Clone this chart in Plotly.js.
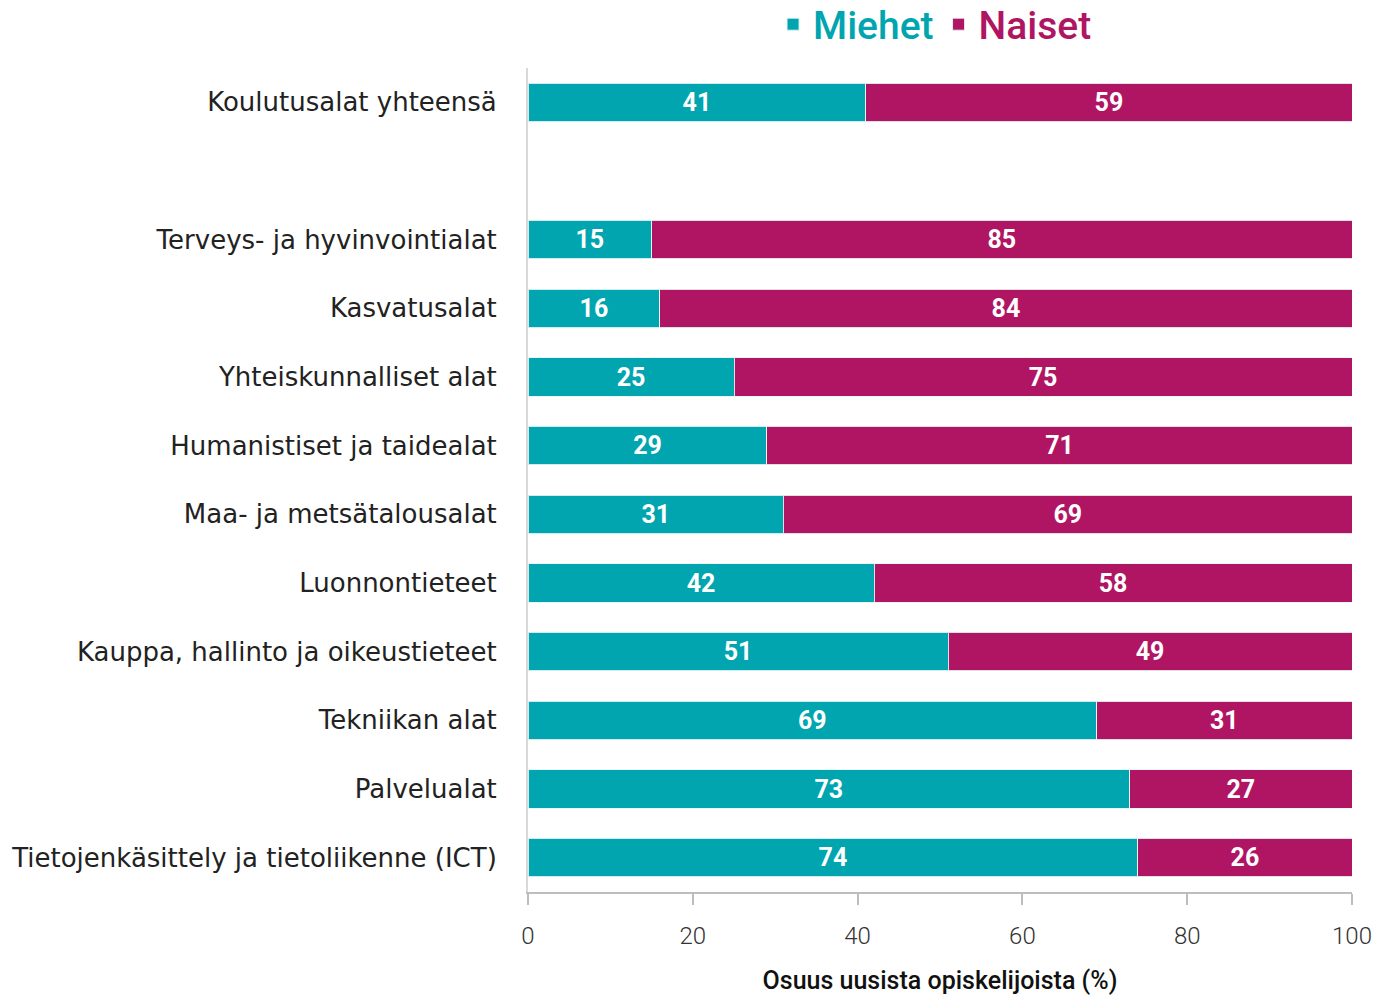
<!DOCTYPE html>
<html><head><meta charset="utf-8">
<script src="https://cdn.plot.ly/plotly-3.0.1.min.js"></script>
<style>body{margin:0;background:#fff}#chart{width:1379px;height:997px}</style>
</head><body><div id="chart"></div>
<script>
const categories = ["Koulutusalat yhteensä", " ", "Terveys- ja hyvinvointialat", "Kasvatusalat", "Yhteiskunnalliset alat", "Humanistiset ja taidealat", "Maa- ja metsätalousalat", "Luonnontieteet", "Kauppa, hallinto ja oikeustieteet", "Tekniikan alat", "Palvelualat", "Tietojenkäsittely ja tietoliikenne (ICT)"];
const miehet = [41, null, 15, 16, 25, 29, 31, 42, 51, 69, 73, 74];
const naiset = [59, null, 85, 84, 75, 71, 69, 58, 49, 31, 27, 26];
const xTicks = [0, 20, 40, 60, 80, 100];

const FONT = "Roboto, 'Open Sans', sans-serif";
const LABELFONT = "'DejaVu Sans', sans-serif";
const teal = "#00A5AF", mag = "#B01563";
function tr(name, vals, color){
  return {type:'bar', orientation:'h', name:name, y:categories, x:vals,
    marker:{color:color, line:{color:'rgba(230,245,245,0.9)', width:1}},
    text: vals.map(v=> v==null? '' : String(v)), textposition:'inside', insidetextanchor:'middle',
    textfont:{family:FONT, size:25, color:'#ffffff', weight:700}, hoverinfo:'skip', cliponaxis:false};
}
const data = [
  tr('<span style="color:'+teal+'">Miehet</span>', miehet, teal),
  tr('<span style="color:'+mag+'">Naiset</span>', naiset, mag)
];
const layout = {
  width:1379, height:997, barmode:'stack', bargap:0.44,
  margin:{l:528, r:27, t:68, b:105, autoexpand:false},
  paper_bgcolor:'#fff', plot_bgcolor:'#fff',
  font:{family:FONT, color:'#222'},
  showlegend:true,
  legend:{orientation:'h', x:0.494, xanchor:'center', y:1.053, yanchor:'middle',
    font:{family:FONT, size:39, weight:500}, itemwidth:30, traceorder:'normal'},
  xaxis:{range:[0,100], tickvals:xTicks, ticktext:xTicks.map(String), showgrid:false, zeroline:false,
    showline:true, linecolor:'#bdbdbd', linewidth:2, ticks:'outside', ticklen:11, tickcolor:'#bdbdbd', tickwidth:2,
    tickfont:{family:FONT, size:24, color:'#333', weight:300}, ticklabelstandoff:10,
    title:{text:'Osuus uusista opiskelijoista (%)', font:{family:FONT, size:25, color:'#111', weight:500}, standoff:23}},
  yaxis:{type:'category', categoryorder:'array', categoryarray:categories, autorange:'reversed',
    showgrid:false, zeroline:false, showline:true, linecolor:'#d9d9d9', linewidth:2, ticks:'',
    tickfont:{family:LABELFONT, size:26, color:'#222'}, ticklabelstandoff:24}
};
Plotly.newPlot('chart', data, layout, {displayModeBar:false});
</script></body></html>
